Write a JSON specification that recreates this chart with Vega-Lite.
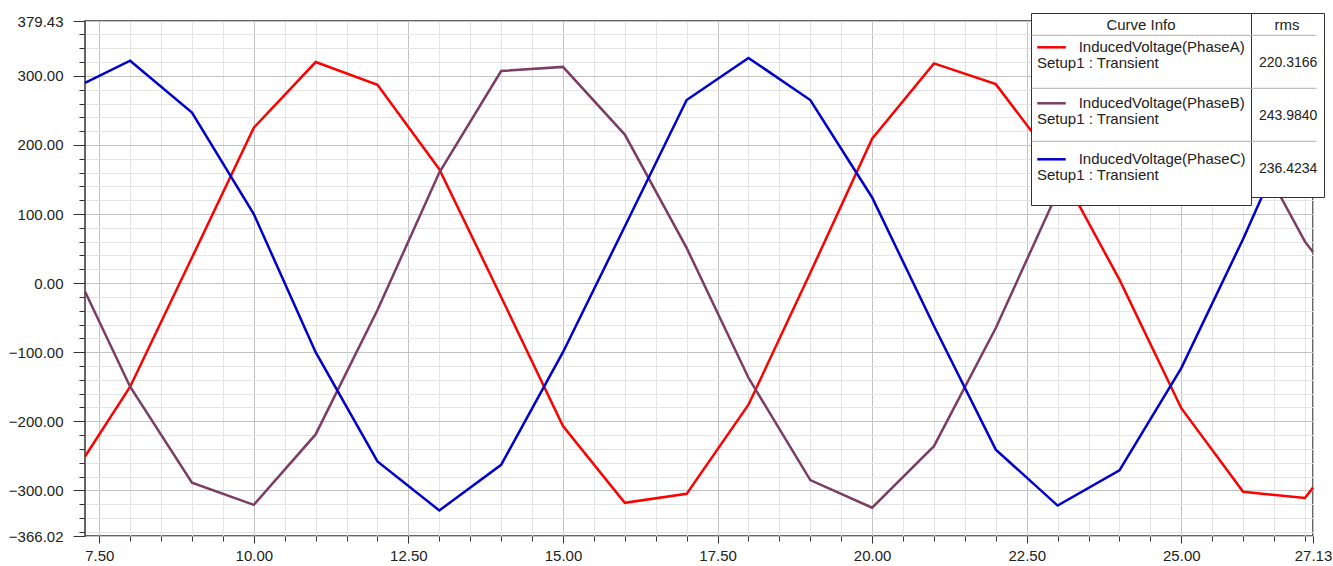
{
  "$schema": "https://vega.github.io/schema/vega-lite/v6.json",
  "width": 1228,
  "height": 515,
  "autosize": "none",
  "padding": {"left": 85, "top": 21, "right": 20, "bottom": 30},
  "background": "white",
  "data": {
    "values": [
      {"t": 7.27, "v": -251, "series": "InducedVoltage(PhaseA)", "rms": "220.3166"},
      {"t": 8, "v": -150, "series": "InducedVoltage(PhaseA)", "rms": "220.3166"},
      {"t": 9, "v": 37, "series": "InducedVoltage(PhaseA)", "rms": "220.3166"},
      {"t": 10, "v": 225, "series": "InducedVoltage(PhaseA)", "rms": "220.3166"},
      {"t": 11, "v": 320, "series": "InducedVoltage(PhaseA)", "rms": "220.3166"},
      {"t": 12, "v": 287, "series": "InducedVoltage(PhaseA)", "rms": "220.3166"},
      {"t": 13, "v": 165, "series": "InducedVoltage(PhaseA)", "rms": "220.3166"},
      {"t": 14, "v": -20, "series": "InducedVoltage(PhaseA)", "rms": "220.3166"},
      {"t": 15, "v": -207, "series": "InducedVoltage(PhaseA)", "rms": "220.3166"},
      {"t": 16, "v": -318, "series": "InducedVoltage(PhaseA)", "rms": "220.3166"},
      {"t": 17, "v": -305, "series": "InducedVoltage(PhaseA)", "rms": "220.3166"},
      {"t": 18, "v": -176, "series": "InducedVoltage(PhaseA)", "rms": "220.3166"},
      {"t": 19, "v": 15, "series": "InducedVoltage(PhaseA)", "rms": "220.3166"},
      {"t": 20, "v": 209, "series": "InducedVoltage(PhaseA)", "rms": "220.3166"},
      {"t": 21, "v": 318, "series": "InducedVoltage(PhaseA)", "rms": "220.3166"},
      {"t": 22, "v": 288, "series": "InducedVoltage(PhaseA)", "rms": "220.3166"},
      {"t": 23, "v": 170, "series": "InducedVoltage(PhaseA)", "rms": "220.3166"},
      {"t": 24, "v": 5, "series": "InducedVoltage(PhaseA)", "rms": "220.3166"},
      {"t": 25, "v": -181, "series": "InducedVoltage(PhaseA)", "rms": "220.3166"},
      {"t": 26, "v": -302, "series": "InducedVoltage(PhaseA)", "rms": "220.3166"},
      {"t": 27, "v": -311, "series": "InducedVoltage(PhaseA)", "rms": "220.3166"},
      {"t": 27.13, "v": -296, "series": "InducedVoltage(PhaseA)", "rms": "220.3166"},
      {"t": 7.27, "v": -12, "series": "InducedVoltage(PhaseB)", "rms": "243.9840"},
      {"t": 8, "v": -150, "series": "InducedVoltage(PhaseB)", "rms": "243.9840"},
      {"t": 9, "v": -289, "series": "InducedVoltage(PhaseB)", "rms": "243.9840"},
      {"t": 10, "v": -321, "series": "InducedVoltage(PhaseB)", "rms": "243.9840"},
      {"t": 11, "v": -219, "series": "InducedVoltage(PhaseB)", "rms": "243.9840"},
      {"t": 12, "v": -39, "series": "InducedVoltage(PhaseB)", "rms": "243.9840"},
      {"t": 13, "v": 160, "series": "InducedVoltage(PhaseB)", "rms": "243.9840"},
      {"t": 14, "v": 307, "series": "InducedVoltage(PhaseB)", "rms": "243.9840"},
      {"t": 15, "v": 313, "series": "InducedVoltage(PhaseB)", "rms": "243.9840"},
      {"t": 16, "v": 215, "series": "InducedVoltage(PhaseB)", "rms": "243.9840"},
      {"t": 17, "v": 51, "series": "InducedVoltage(PhaseB)", "rms": "243.9840"},
      {"t": 18, "v": -137, "series": "InducedVoltage(PhaseB)", "rms": "243.9840"},
      {"t": 19, "v": -285, "series": "InducedVoltage(PhaseB)", "rms": "243.9840"},
      {"t": 20, "v": -325, "series": "InducedVoltage(PhaseB)", "rms": "243.9840"},
      {"t": 21, "v": -236, "series": "InducedVoltage(PhaseB)", "rms": "243.9840"},
      {"t": 22, "v": -65, "series": "InducedVoltage(PhaseB)", "rms": "243.9840"},
      {"t": 23, "v": 132, "series": "InducedVoltage(PhaseB)", "rms": "243.9840"},
      {"t": 24, "v": 300, "series": "InducedVoltage(PhaseB)", "rms": "243.9840"},
      {"t": 25, "v": 310, "series": "InducedVoltage(PhaseB)", "rms": "243.9840"},
      {"t": 26, "v": 225, "series": "InducedVoltage(PhaseB)", "rms": "243.9840"},
      {"t": 27, "v": 60, "series": "InducedVoltage(PhaseB)", "rms": "243.9840"},
      {"t": 27.13, "v": 45, "series": "InducedVoltage(PhaseB)", "rms": "243.9840"},
      {"t": 7.27, "v": 290, "series": "InducedVoltage(PhaseC)", "rms": "236.4234"},
      {"t": 8, "v": 322, "series": "InducedVoltage(PhaseC)", "rms": "236.4234"},
      {"t": 9, "v": 247, "series": "InducedVoltage(PhaseC)", "rms": "236.4234"},
      {"t": 10, "v": 100, "series": "InducedVoltage(PhaseC)", "rms": "236.4234"},
      {"t": 11, "v": -100, "series": "InducedVoltage(PhaseC)", "rms": "236.4234"},
      {"t": 12, "v": -258, "series": "InducedVoltage(PhaseC)", "rms": "236.4234"},
      {"t": 13, "v": -329, "series": "InducedVoltage(PhaseC)", "rms": "236.4234"},
      {"t": 14, "v": -263, "series": "InducedVoltage(PhaseC)", "rms": "236.4234"},
      {"t": 15, "v": -100, "series": "InducedVoltage(PhaseC)", "rms": "236.4234"},
      {"t": 16, "v": 82, "series": "InducedVoltage(PhaseC)", "rms": "236.4234"},
      {"t": 17, "v": 265, "series": "InducedVoltage(PhaseC)", "rms": "236.4234"},
      {"t": 18, "v": 326, "series": "InducedVoltage(PhaseC)", "rms": "236.4234"},
      {"t": 19, "v": 265, "series": "InducedVoltage(PhaseC)", "rms": "236.4234"},
      {"t": 20, "v": 124, "series": "InducedVoltage(PhaseC)", "rms": "236.4234"},
      {"t": 21, "v": -62, "series": "InducedVoltage(PhaseC)", "rms": "236.4234"},
      {"t": 22, "v": -241, "series": "InducedVoltage(PhaseC)", "rms": "236.4234"},
      {"t": 23, "v": -322, "series": "InducedVoltage(PhaseC)", "rms": "236.4234"},
      {"t": 24, "v": -271, "series": "InducedVoltage(PhaseC)", "rms": "236.4234"},
      {"t": 25, "v": -123, "series": "InducedVoltage(PhaseC)", "rms": "236.4234"},
      {"t": 26, "v": 64, "series": "InducedVoltage(PhaseC)", "rms": "236.4234"},
      {"t": 27, "v": 265, "series": "InducedVoltage(PhaseC)", "rms": "236.4234"},
      {"t": 27.13, "v": 280, "series": "InducedVoltage(PhaseC)", "rms": "236.4234"}
    ]
  },
  "layer": [
    {
      "mark": {"type": "line", "opacity": 0},
      "encoding": {
        "x": {
          "field": "t", "type": "quantitative",
          "scale": {"domain": [7.27, 27.13], "nice": false, "zero": false},
          "axis": {
            "orient": "bottom", "title": null, "labels": false, "domain": false,
            "values": [7.5, 8, 8.5, 9, 9.5, 10, 10.5, 11, 11.5, 12, 12.5, 13, 13.5, 14, 14.5, 15, 15.5, 16, 16.5, 17, 17.5, 18, 18.5, 19, 19.5, 20, 20.5, 21, 21.5, 22, 22.5, 23, 23.5, 24, 24.5, 25, 25.5, 26, 26.5, 27],
            "tickSize": 5, "tickColor": "#333", "grid": true, "gridColor": "#e4e4e4", "gridWidth": 1
          }
        },
        "y": {
          "field": "v", "type": "quantitative",
          "scale": {"domain": [-366.02, 379.43], "nice": false, "zero": false},
          "axis": {
            "orient": "left", "title": null, "labels": false, "domain": false,
            "values": [-360, -340, -320, -300, -280, -260, -240, -220, -200, -180, -160, -140, -120, -100, -80, -60, -40, -20, 0, 20, 40, 60, 80, 100, 120, 140, 160, 180, 200, 220, 240, 260, 280, 300, 320, 340, 360],
            "tickSize": 6, "tickColor": "#333", "grid": true, "gridColor": "#e4e4e4", "gridWidth": 1
          }
        }
      }
    },
    {
      "mark": {"type": "line", "strokeWidth": 2.5},
      "encoding": {
        "x": {
          "field": "t", "type": "quantitative",
          "scale": {"domain": [7.27, 27.13], "nice": false, "zero": false},
          "axis": {
            "orient": "bottom", "title": null, "domain": false,
            "values": [7.5, 10, 12.5, 15, 17.5, 20, 22.5, 25, 27.13],
            "format": ".2f", "labelFlush": false, "labelOverlap": false,
            "tickSize": 7, "tickColor": "#333", "labelPadding": 5,
            "grid": true, "gridColor": "#c4c4c4", "gridWidth": 1
          }
        },
        "y": {
          "field": "v", "type": "quantitative",
          "scale": {"domain": [-366.02, 379.43], "nice": false, "zero": false},
          "axis": {
            "orient": "left", "title": null, "domain": false,
            "values": [-366.02, -300, -200, -100, 0, 100, 200, 300, 379.43],
            "format": ".2f", "labelOverlap": false, "labelFlush": false,
            "tickSize": 12, "tickColor": "#333", "labelPadding": 10,
            "grid": true, "gridColor": "#c4c4c4", "gridWidth": 1
          }
        },
        "color": {
          "field": "series", "type": "nominal",
          "scale": {
            "domain": ["InducedVoltage(PhaseA)", "InducedVoltage(PhaseB)", "InducedVoltage(PhaseC)"],
            "range": ["#ff0000", "#7b3d63", "#0000cc"]
          },
          "legend": {
            "orient": "none", "legendX": 946, "legendY": -8, "zindex": 1,
            "title": "Curve Info", "titleAnchor": "middle", "titleFontSize": 15, "titleFontWeight": "normal",
            "titleFont": "Liberation Sans", "titleColor": "#222", "titlePadding": -1.2,
            "symbolType": "stroke", "symbolSize": 812, "symbolStrokeWidth": 2.5,
            "labelExpr": "['\u200b\u00a0\u00a0\u00a0\u00a0\u00a0\u00a0\u00a0\u00a0\u00a0\u00a0' + datum.label, 'Setup1 : Transient', '']",
            "labelFont": "Liberation Sans", "labelFontSize": 15, "labelColor": "#222",
            "labelOffset": -30, "labelLimit": 400, "rowPadding": 0,
            "padding": 5, "strokeColor": "#333", "fillColor": "white"
          }
        },
        "opacity": {
          "field": "rms", "type": "nominal",
          "scale": {"domain": ["220.3166", "243.9840", "236.4234"], "range": [1, 1]},
          "legend": {
            "orient": "none", "legendX": 1166, "legendY": -8, "zindex": 2,
            "title": "rms", "titleAnchor": "middle", "titleFontSize": 15, "titleFontWeight": "normal",
            "titleFont": "Liberation Sans", "titleColor": "#222", "titlePadding": 6.8,
            "symbolType": "M -231.5 -11.5 H 53.5", "symbolSize": 4, "symbolStrokeWidth": 1,
            "symbolStrokeColor": "#b0b0b0", "symbolFillColor": "transparent",
            "labelExpr": "['', datum.label, '']",
            "labelFont": "Liberation Sans", "labelFontSize": 14, "labelColor": "#222",
            "labelOffset": -11, "labelLimit": 400, "rowPadding": 0,
            "padding": 5, "strokeColor": "#333", "fillColor": "white"
          }
        }
      }
    }
  ],
  "resolve": {"axis": {"x": "independent", "y": "independent"}},
  "config": {
    "view": {"stroke": "#333", "strokeWidth": 1.5},
    "axis": {"labelFont": "Liberation Sans", "labelFontSize": 15, "labelColor": "#222"},
    "style": {"guide-label": {"lineHeight": 16}}
  }
}
